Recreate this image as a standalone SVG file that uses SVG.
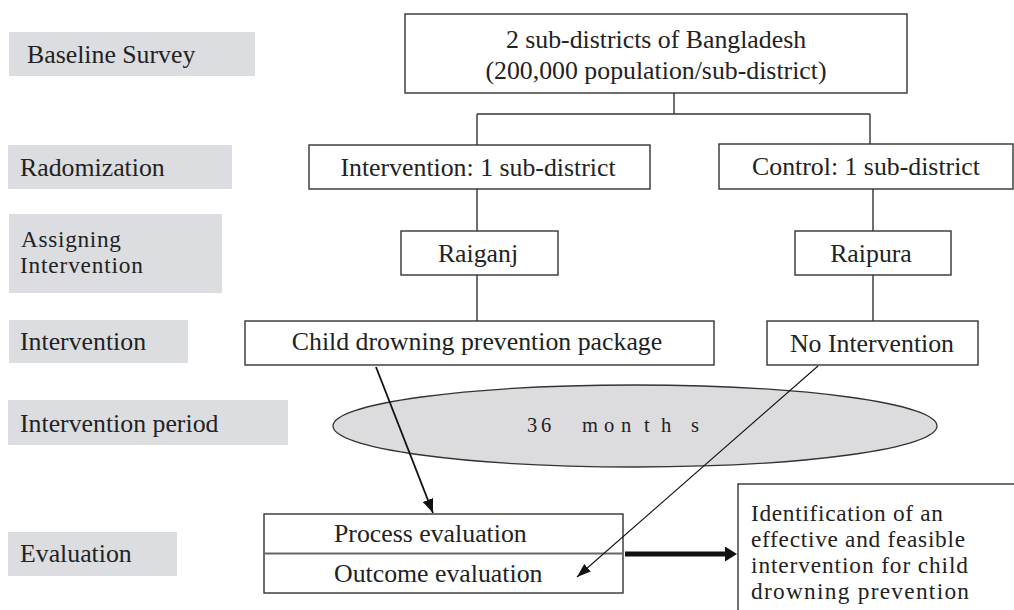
<svg xmlns="http://www.w3.org/2000/svg" width="1014" height="610" viewBox="0 0 1014 610">
<defs>
<style>
text{font-family:"Liberation Serif","Times New Roman",serif;font-size:25.8px;fill:#222}
.ml{font-size:23.3px}
.lab{fill:#dcdde0}
.box{fill:#fff;stroke:#333;stroke-width:1.4}
.mid{text-anchor:middle}
.conn line,.conn path{stroke:#333;stroke-width:1.4;fill:none}
</style>
<marker id="ah" viewBox="0 0 14 11" refX="14" refY="5.5" markerWidth="14" markerHeight="11" orient="auto" markerUnits="userSpaceOnUse"><path d="M0,0 L14,5.5 L0,11 z" fill="#111"/></marker>
<marker id="ahThin" viewBox="0 0 14 10" refX="14" refY="5" markerWidth="14" markerHeight="10" orient="auto" markerUnits="userSpaceOnUse"><path d="M0,0 L14,5 L0,10 z" fill="#111"/></marker>
<marker id="ahThick" viewBox="0 0 12 15" refX="0" refY="7.5" markerWidth="12" markerHeight="15" orient="auto" markerUnits="userSpaceOnUse"><path d="M0,0 L12,7.5 L0,15 z" fill="#111"/></marker>
</defs>
<rect width="1014" height="610" fill="#fff"/>

<g id="label-baseline"><rect class="lab" x="9" y="32" width="246" height="44"/><text x="27" y="63">Baseline Survey</text></g>
<g id="label-randomization"><rect class="lab" x="8" y="145" width="224" height="44"/><text x="20" y="176">Radomization</text></g>
<g id="label-assigning"><rect class="lab" x="9" y="214" width="213" height="79"/><text class="ml" x="21" y="247" textLength="100" lengthAdjust="spacing">Assigning</text><text class="ml" x="20" y="273" textLength="123" lengthAdjust="spacing">Intervention</text></g>
<g id="label-intervention"><rect class="lab" x="9" y="320" width="179" height="43"/><text x="20" y="350">Intervention</text></g>
<g id="label-period"><rect class="lab" x="8" y="400" width="280" height="45"/><text x="20" y="432">Intervention period</text></g>
<g id="label-evaluation"><rect class="lab" x="8" y="532" width="169" height="44"/><text x="20" y="562">Evaluation</text></g>

<g class="conn" id="connectors">
<line x1="674" y1="93" x2="674" y2="114"/>
<line x1="477" y1="114" x2="870" y2="114"/>
<line x1="477" y1="114" x2="477" y2="145"/>
<line x1="870" y1="114" x2="870" y2="144"/>
<line x1="477" y1="189" x2="477" y2="231"/>
<line x1="477" y1="275" x2="477" y2="321"/>
<line x1="873" y1="189" x2="873" y2="231"/>
<line x1="873" y1="275" x2="873" y2="321"/>
</g>

<g id="node-top"><rect class="box" x="405" y="14" width="502" height="79"/><text class="mid" x="656" y="48">2 sub-districts of Bangladesh</text><text class="mid" x="656" y="79">(200,000 population/sub-district)</text></g>
<g id="node-intervention"><rect class="box" x="309" y="145" width="341" height="44"/><text class="mid" x="478" y="176">Intervention: 1 sub-district</text></g>
<g id="node-control"><rect class="box" x="719" y="144" width="294" height="45"/><text class="mid" x="866" y="175">Control: 1 sub-district</text></g>
<g id="node-raiganj"><rect class="box" x="401" y="231" width="157" height="44"/><text class="mid" x="478" y="262">Raiganj</text></g>
<g id="node-raipura"><rect class="box" x="795" y="231" width="156" height="44"/><text class="mid" x="871" y="262">Raipura</text></g>
<g id="node-package"><rect class="box" x="245" y="321" width="469" height="44"/><text class="mid" x="477" y="350">Child drowning prevention package</text></g>
<g id="node-nointervention"><rect class="box" x="767" y="321" width="211" height="44"/><text class="mid" x="872" y="352">No Intervention</text></g>
<g id="node-period"><ellipse cx="635" cy="426" rx="302" ry="41" fill="#dcdcdf" stroke="#333" stroke-width="1.3"/><text x="527 541 582 604 621 644 661 691" y="432" style="font-size:20.5px">36months</text></g>
<g id="node-evaluation"><rect class="box" x="264" y="514" width="359" height="79"/><line x1="264" y1="553.5" x2="623" y2="553.5" stroke="#666" stroke-width="2"/><text x="334" y="542">Process evaluation</text><text x="334" y="582">Outcome evaluation</text></g>
<g id="node-outcome"><rect class="box" x="738" y="484" width="300" height="160"/>
<text class="ml" x="751" y="521" textLength="192" lengthAdjust="spacing">Identification of an</text>
<text class="ml" x="751" y="547" textLength="214" lengthAdjust="spacing">effective and feasible</text>
<text class="ml" x="751" y="573" textLength="217" lengthAdjust="spacing">intervention for child</text>
<text class="ml" x="751" y="599" textLength="218" lengthAdjust="spacing">drowning prevention</text></g>

<g id="arrows">
<line x1="376" y1="367" x2="433" y2="513" stroke="#111" stroke-width="1.8" marker-end="url(#ah)"/>
<line x1="818" y1="366" x2="577" y2="577" stroke="#111" stroke-width="1.1" marker-end="url(#ahThin)"/>
<line x1="625" y1="554" x2="725" y2="554" stroke="#111" stroke-width="5" marker-end="url(#ahThick)"/>
</g>
</svg>
